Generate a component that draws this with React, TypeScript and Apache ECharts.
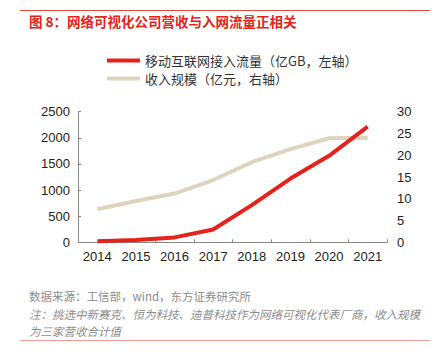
import React, { useEffect, useRef } from "react";
import * as echarts from "echarts";

const years = ["2014", "2015", "2016", "2017", "2018", "2019", "2020", "2021"];
const trafficValues = [20.6, 41.9, 93.6, 246, 711, 1220, 1656, 2216];
const revenueValues = [7.6, 9.5, 11.2, 14.3, 18.4, 21.4, 23.9, 24.0];
const leftTicks = { min: 0, max: 2500, interval: 500 };
const rightTicks = { min: 0, max: 30, interval: 5 };

const titleText = "图 8：网络可视化公司营收与入网流量正相关";
const seriesNames = ["移动互联网接入流量（亿GB，左轴）", "收入规模（亿元，右轴）"];
const sourceText = "数据来源：工信部，wind，东方证券研究所";
const noteLine1 = "注：挑选中新赛克、恒为科技、迪普科技作为网络可视化代表厂商，收入规模";
const noteLine2 = "为三家营收合计值";

const FONT = '"Liberation Sans", "Noto Sans CJK SC", sans-serif';
const RED = "#e3231c";
const BEIGE = "#ddd4bd";

export default function App() {
  const ref = useRef<HTMLDivElement>(null);
  useEffect(() => {
    if (!ref.current) return;
    const chart = echarts.init(ref.current, undefined, { renderer: "svg" });
    chart.setOption({
      animation: false,
      backgroundColor: "#ffffff",
      textStyle: { fontFamily: FONT },
      graphic: [
        { type: "line", shape: { x1: 20, y1: 10.5, x2: 430, y2: 10.5 }, style: { stroke: "#e8483a", lineWidth: 1 } },
        {
          type: "text",
          left: 29,
          top: 14,
          style: { text: titleText, fill: "#e3231c", font: 'bold 13.5px "Noto Sans CJK SC", sans-serif' },
        },
        {
          type: "text",
          left: 29,
          top: 290,
          style: { text: sourceText, fill: "#8c8c8c", font: '11.5px "Noto Sans CJK SC", sans-serif' },
        },
        {
          type: "text",
          left: 29,
          top: 308,
          style: { text: noteLine1, fill: "#8c8c8c", font: 'italic 11.5px "Noto Sans CJK SC", sans-serif' },
        },
        {
          type: "text",
          left: 29,
          top: 325,
          style: { text: noteLine2, fill: "#8c8c8c", font: 'italic 11.5px "Noto Sans CJK SC", sans-serif' },
        },
        { type: "line", shape: { x1: 20, y1: 340.5, x2: 430, y2: 340.5 }, style: { stroke: "#f29a94", lineWidth: 1 } },
      ],
      legend: {
        orient: "vertical",
        left: 102,
        top: 49,
        itemWidth: 33,
        itemHeight: 4,
        itemGap: 5,
        icon: "rect",
        data: seriesNames,
        textStyle: { fontSize: 13, color: "#333", fontFamily: '"Noto Sans CJK SC", sans-serif' },
      },
      grid: { left: 78, right: 54, top: 111.7, bottom: 113.7 },
      xAxis: {
        type: "category",
        data: years,
        boundaryGap: true,
        axisLine: { lineStyle: { color: "#888" } },
        axisTick: { show: true, inside: true, length: 3, lineStyle: { color: "#888" } },
        axisLabel: { fontSize: 13, color: "#222", margin: 8, fontFamily: FONT },
        splitLine: { show: false },
      },
      yAxis: [
        {
          type: "value",
          min: leftTicks.min,
          max: leftTicks.max,
          interval: leftTicks.interval,
          axisLine: { show: true, lineStyle: { color: "#888" } },
          axisTick: { show: true, inside: true, length: 3, lineStyle: { color: "#888" } },
          axisLabel: { fontSize: 13, color: "#222", margin: 8, fontFamily: FONT, formatter: (v: number) => String(v) },
          splitLine: { show: false },
        },
        {
          type: "value",
          position: "right",
          min: rightTicks.min,
          max: rightTicks.max,
          interval: rightTicks.interval,
          axisLine: { show: false },
          axisTick: { show: false },
          axisLabel: { fontSize: 13, color: "#222", margin: 10, fontFamily: FONT, formatter: (v: number) => String(v) },
          splitLine: { show: false },
        },
      ],
      series: [
        {
          name: seriesNames[0],
          type: "line",
          data: trafficValues,
          yAxisIndex: 0,
          symbol: "none",
          z: 5,
          lineStyle: { width: 4, color: RED },
          itemStyle: { color: RED },
        },
        {
          name: seriesNames[1],
          type: "line",
          data: revenueValues,
          yAxisIndex: 1,
          symbol: "none",
          z: 3,
          lineStyle: { width: 4, color: BEIGE },
          itemStyle: { color: BEIGE },
        },
      ],
    });
    return () => chart.dispose();
  }, []);
  return <div ref={ref} style={{ position: "absolute", left: 0, top: 0, width: 441, height: 356 }} />;
}
